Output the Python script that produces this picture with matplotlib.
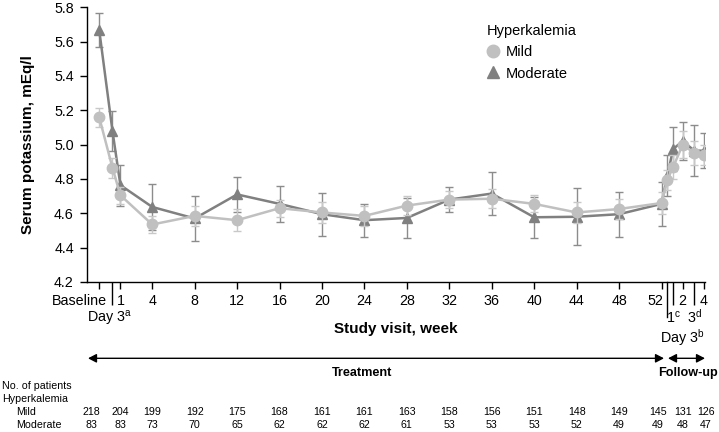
import matplotlib
matplotlib.use("Agg")
import matplotlib.pyplot as plt
import matplotlib.transforms as mtransforms
from matplotlib.lines import Line2D

plt.rcParams['font.family'] = ['Liberation Sans', 'DejaVu Sans']
plt.rcParams['mathtext.fontset'] = 'custom'
plt.rcParams['mathtext.rm'] = 'Liberation Sans'
plt.rcParams['mathtext.it'] = 'Liberation Sans:italic'
plt.rcParams['mathtext.bf'] = 'Liberation Sans:bold'

# ---- data ----
# visit positions on the week axis (baseline, day 3, week 1, 4..52, follow-up day 3, 1, 2, 3, 4)
visit_weeks = [-1, 0.25, 1, 4, 8, 12, 16, 20, 24, 28, 32, 36, 40, 44, 48, 52,
               52.55, 53.1, 54, 55.1, 56]
mild_mean = [5.16, 4.865, 4.705, 4.535, 4.585, 4.56, 4.63, 4.605, 4.585, 4.645, 4.68,
             4.685, 4.655, 4.605, 4.625, 4.66, 4.795, 4.87, 5.0, 4.95, 4.94]
mild_se = [0.055, 0.06, 0.05, 0.05, 0.06, 0.065, 0.05, 0.06, 0.06, 0.055, 0.05,
           0.055, 0.05, 0.06, 0.06, 0.065, 0.06, 0.07, 0.08, 0.07, 0.06]
mod_mean = [5.668, 5.08, 4.764, 4.637, 4.57, 4.71, 4.655, 4.595, 4.56, 4.573, 4.68,
            4.715, 4.577, 4.58, 4.595, 4.655, 4.82, 4.975, 5.02, 4.965, 4.965]
mod_se = [0.1, 0.115, 0.12, 0.135, 0.13, 0.1, 0.105, 0.125, 0.095, 0.115, 0.073,
          0.125, 0.12, 0.165, 0.13, 0.13, 0.12, 0.13, 0.11, 0.15, 0.1]

# short ticks with labels
tick_weeks = [-1, 1, 4, 8, 12, 16, 20, 24, 28, 32, 36, 40, 44, 48, 52, 54, 56]
tick_labels = ['Baseline', '1', '4', '8', '12', '16', '20', '24', '28', '32', '36',
               '40', '44', '48', '52', '2', '4']
# long ticks with labels below
long_tick_weeks = [0.25, 53.1, 55.1]
long_tick_labels = ['Day 3$^{\\mathrm{a}}$', '1$^{\\mathrm{c}}$', '3$^{\\mathrm{d}}$']
fu_day3_week = 52.55
fu_day3_label = 'Day 3$^{\\mathrm{b}}$'

# numbers at risk
count_weeks = [-1, 1, 4, 8, 12, 16, 20, 24, 28, 32, 36, 40, 44, 48, 52, 54, 56]
mild_n = [218, 204, 199, 192, 175, 168, 161, 161, 163, 158, 156, 151, 148, 149, 145, 131, 126]
mod_n = [83, 83, 73, 70, 65, 62, 62, 62, 61, 53, 53, 53, 52, 49, 49, 48, 47]

mild_color = '#c0c0c0'
mild_err = '#c8c8c8'
mod_color = '#808080'
mod_err = '#8c8c8c'

W, H = 719, 432
PX = 0.72  # points per pixel at 100 dpi
fig = plt.figure(figsize=(W / 100, H / 100), dpi=100)
ax = fig.add_axes([87 / W, 1 - 282 / H, (705 - 87) / W, (282 - 7.3) / H])

ax.errorbar(visit_weeks, mod_mean, yerr=mod_se, color=mod_color, ecolor=mod_err,
            marker='^', markersize=7.5, linewidth=1.8, elinewidth=1.0, capsize=3,
            capthick=1.0, zorder=2)
ax.errorbar(visit_weeks, mild_mean, yerr=mild_se, color=mild_color, ecolor=mild_err,
            marker='o', markersize=7.5, linewidth=1.8, elinewidth=1.0, capsize=3,
            capthick=1.0, zorder=3)

ax.set_xlim(-2.15, 56.1)
ax.set_ylim(4.2, 5.8)
ax.set_yticks([4.2, 4.4, 4.6, 4.8, 5.0, 5.2, 5.4, 5.6, 5.8])
ax.set_yticklabels(['4.2', '4.4', '4.6', '4.8', '5.0', '5.2', '5.4', '5.6', '5.8'])
for s in ['top', 'right']:
    ax.spines[s].set_visible(False)
for s in ['left', 'bottom']:
    ax.spines[s].set_linewidth(1.0)
ax.tick_params(axis='y', direction='out', length=5, width=1.0, labelsize=10.3, pad=4.5)
ax.set_xticks(tick_weeks)
ax.set_xticklabels([])
ax.set_xticks(long_tick_weeks, minor=True)
ax.tick_params(axis='x', which='major', direction='out', length=5.3, width=1.0)
ax.tick_params(axis='x', which='minor', direction='out', length=16.5, width=1.0)

# long tick for follow-up day 3
bt = mtransforms.blended_transform_factory(ax.transData, ax.transAxes)
ax.plot([fu_day3_week, fu_day3_week], [0, -35 / 274.7], transform=bt, color='black',
        linewidth=1.0, clip_on=False)

# x tick labels
label_dx = {-1: -20, 52: -6.5}
for w, lab in zip(tick_weeks, tick_labels):
    dx = label_dx.get(w, 0) if lab in ('Baseline', '52') else 0
    tr = mtransforms.offset_copy(bt, fig=fig, x=dx * PX, y=-23 * PX, units='points')
    ax.text(w, 0, lab, transform=tr, ha='center', va='baseline', fontsize=10.3)
for w, lab, dx in zip(long_tick_weeks, long_tick_labels, [-3, 0, 0]):
    tr = mtransforms.offset_copy(bt, fig=fig, x=dx * PX, y=-41 * PX, units='points')
    ax.text(w, 0, lab, transform=tr, ha='center', va='baseline', fontsize=10.3)
tr = mtransforms.offset_copy(bt, fig=fig, x=15 * PX, y=-61 * PX, units='points')
ax.text(fu_day3_week, 0, fu_day3_label, transform=tr, ha='center', va='baseline',
        fontsize=10.3)

ax.set_ylabel('Serum potassium, mEq/l', fontsize=11, fontweight='bold', labelpad=14)
fig.text(396 / W, 1 - 333 / H, 'Study visit, week', ha='center', va='baseline',
         fontsize=11, fontweight='bold')

# legend
handles = [Line2D([], [], color=mild_color, marker='o', linestyle='none', markersize=9),
           Line2D([], [], color=mod_color, marker='^', linestyle='none', markersize=9)]
leg = ax.legend(handles, ['Mild', 'Moderate'], title='Hyperkalemia', frameon=False,
                loc='upper left', bbox_to_anchor=(484 / W, 1 - 21 / H),
                bbox_transform=fig.transFigure, fontsize=10.5, title_fontsize=10.5,
                handlelength=0.9, handletextpad=0.4, labelspacing=0.5,
                borderaxespad=0, borderpad=0.2)
leg._legend_box.align = 'left'

# treatment / follow-up arrows
arrow_y = 1 - 358.3 / H
fig.add_artist(matplotlib.patches.FancyArrowPatch(
    (88 / W, arrow_y), (664 / W, arrow_y), transform=fig.transFigure,
    arrowstyle='<|-|>,head_length=5,head_width=2.6', mutation_scale=1,
    color='black', linewidth=1.0, shrinkA=0, shrinkB=0))
fig.add_artist(matplotlib.patches.FancyArrowPatch(
    (668 / W, arrow_y), (705 / W, arrow_y), transform=fig.transFigure,
    arrowstyle='<|-|>,head_length=5,head_width=2.6', mutation_scale=1,
    color='black', linewidth=1.0, shrinkA=0, shrinkB=0))
fig.text(362 / W, 1 - 376 / H, 'Treatment', ha='center', va='baseline', fontsize=9.1,
         fontweight='bold')
fig.text(688 / W, 1 - 376 / H, 'Follow-up', ha='center', va='baseline', fontsize=9.1,
         fontweight='bold')

# numbers at risk table
fig.text(2 / W, 1 - 389.3 / H, 'No. of patients', ha='left', va='baseline', fontsize=7.7)
fig.text(2 / W, 1 - 402.3 / H, 'Hyperkalemia', ha='left', va='baseline', fontsize=7.7)
fig.text(15.7 / W, 1 - 415 / H, 'Mild', ha='left', va='baseline', fontsize=7.7)
fig.text(15.7 / W, 1 - 427.7 / H, 'Moderate', ha='left', va='baseline', fontsize=7.7)
tt = mtransforms.blended_transform_factory(ax.transData, fig.transFigure)
count_dx = {-1: -7.5, 52: -3.5, 56: 2}
for w, a, b in zip(count_weeks, mild_n, mod_n):
    dx = count_dx.get(w, 0)
    tr = mtransforms.offset_copy(tt, fig=fig, x=dx * PX, y=0, units='points')
    ax.text(w, 1 - 415 / H, str(a), transform=tr, ha='center', va='baseline',
            fontsize=7.7, clip_on=False)
    ax.text(w, 1 - 427.7 / H, str(b), transform=tr, ha='center', va='baseline',
            fontsize=7.7, clip_on=False)

fig.savefig('out.png', dpi=100)
